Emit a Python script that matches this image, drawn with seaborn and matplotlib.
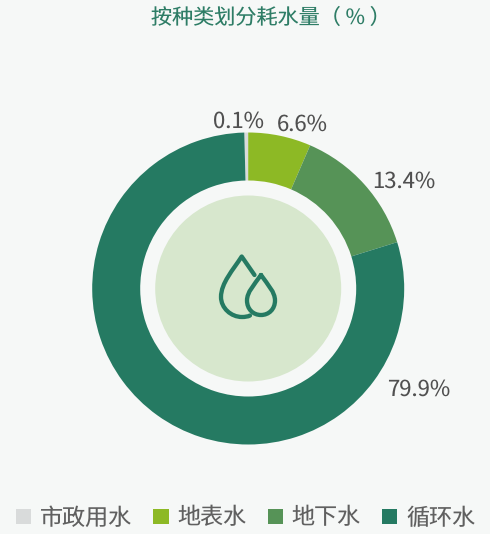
import matplotlib
matplotlib.use("Agg")
import matplotlib.pyplot as plt
import seaborn as sns
from matplotlib.path import Path
from matplotlib.patches import PathPatch, Circle

categories = ["市政用水", "地表水", "地下水", "循环水"]
value_labels = ["0.1%", "6.6%", "13.4%", "79.9%"]
# Slice shares (the 0.1% slice is drawn a little wider)
drawn_shares = [0.4, 6.5, 13.7, 79.4]
colors = ["#D9DBDB", "#8DB925", "#569357", "#257A62"]
title = "按种类划分耗水量（ % ）"

BG = "#F6F8F7"
sns.set_theme(style="white")
plt.rcParams["font.family"] = ["Noto Sans CJK SC", "DejaVu Sans"]
plt.rcParams["text.hinting"] = "none"
palette = sns.color_palette(colors)

W, H = 490, 534
fig = plt.figure(figsize=(W / 100, H / 100), dpi=100, facecolor=BG)
ax = fig.add_axes([0, 0, 1, 1])
ax.set_facecolor(BG)

cx, cy = 248.2, H - 288.5
start = 90 + 360 * drawn_shares[0] / 100
wedges, _ = ax.pie(
    drawn_shares, colors=palette, startangle=start, counterclock=False,
    center=(cx, cy), radius=156, frame=True,
    wedgeprops=dict(width=48, linewidth=0),
)
ax.set_xlim(0, W)
ax.set_ylim(0, H)
ax.set_aspect("equal")
ax.axis("off")

ax.add_patch(Circle((cx, cy), 93, fc="#D7E7CD", ec="none", zorder=3))

def P(x, y):
    return (x, H - y)

big = Path(
    [P(254.5, 275), P(241.7, 256.5), P(233, 270), P(221, 283), P(221, 297),
     P(221, 308), P(231, 317), P(242, 317), P(245, 317), P(248, 316.6), P(250, 315.5)],
    [Path.MOVETO, Path.LINETO, Path.CURVE4, Path.CURVE4, Path.CURVE4,
     Path.CURVE4, Path.CURVE4, Path.CURVE4, Path.CURVE4, Path.CURVE4, Path.CURVE4],
)
small = Path(
    [P(261, 275), P(254, 285), P(247, 292), P(247, 300.5),
     P(247, 309), P(253, 315), P(261, 315),
     P(269, 315), P(275, 309), P(275, 300.5),
     P(275, 292), P(268, 285), P(261, 275)],
    [Path.MOVETO] + [Path.CURVE4] * 12,
)
for p in (big, small):
    ax.add_patch(PathPatch(p, fc="none", ec="#257A62", lw=3.1, capstyle="round",
                           joinstyle="round", zorder=4))

positions = [(238, 121), (302, 124.5), (404, 181.5), (419, 389)]
for lab, (x, y) in zip(value_labels, positions):
    ax.text(x, H - y, lab, ha="center", va="center", fontsize=15.9, color="#505050")

ax.text(271, H - 17.5, title, ha="center", va="center", fontsize=15.2, color="#2E7D66")

leg = ax.legend(
    wedges, categories, loc="center", bbox_to_anchor=(245.5 / W, (H - 518) / H),
    bbox_transform=fig.transFigure, ncol=4, frameon=False, fontsize=16.6,
    handlelength=0.66, handleheight=0.66, handletextpad=0.38, columnspacing=0.92,
    borderpad=0, borderaxespad=0,
)
for t in leg.get_texts():
    t.set_color("#606060")

fig.savefig("out.png", dpi=100, facecolor=BG)
